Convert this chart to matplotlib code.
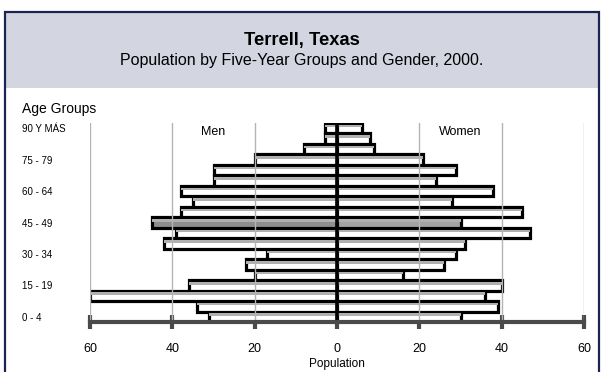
import matplotlib
matplotlib.use("Agg")
import matplotlib.pyplot as plt
from matplotlib.patches import Rectangle
import numpy as np

plt.rcParams['font.family'] = ['Liberation Sans', 'DejaVu Sans']

# Population by five-year age group (bottom to top)
age_groups = ["0 - 4", "5 - 9", "10 - 14", "15 - 19", "20 - 24", "25 - 29",
              "30 - 34", "35 - 39", "40 - 44", "45 - 49", "50 - 54", "55 - 59",
              "60 - 64", "65 - 69", "70 - 74", "75 - 79", "80 - 84", "85 - 89",
              "90 Y MÁS"]
men = [31, 34, 60, 36, 20, 22, 17, 42, 39, 45, 38, 35, 38, 30, 30, 20, 8, 3, 3]
women = [30, 39, 36, 40, 16, 26, 29, 31, 47, 30, 45, 28, 38, 24, 29, 21, 9, 8, 6]
highlight_group = "45 - 49"

x_ticks = [-60, -40, -20, 0, 20, 40, 60]
x_tick_labels = ["60", "40", "20", "0", "20", "40", "60"]

W, H = 603, 372
fig = plt.figure(figsize=(W / 100, H / 100), dpi=100)

# Header panel and frame
fig.patches.append(Rectangle((5 / W, 1 - 88 / H), 594 / W, 76 / H,
                             transform=fig.transFigure, facecolor="#d3d5e1",
                             edgecolor="none", zorder=0))
fig.patches.append(Rectangle((5 / W, -0.01), 594 / W, 1 - 12 / H + 0.01,
                             transform=fig.transFigure, facecolor="none",
                             edgecolor="#1c2452", linewidth=1.6, zorder=5))
fig.text(0.5, 1 - 40 / H, "Terrell, Texas", ha="center", va="center",
         fontsize=13.2, fontweight="bold")
fig.text(0.5, 1 - 60 / H, "Population by Five-Year Groups and Gender, 2000.",
         ha="center", va="center", fontsize=11.5)
fig.text(22 / W, 1 - 109 / H, "Age Groups", ha="left", va="center", fontsize=10)

ax = fig.add_axes([90 / W, 1 - 322 / H, 494 / W, 199 / H])
y = np.arange(len(age_groups))
hi = age_groups.index(highlight_group)

men_face = ["#8e8e8e" if i == hi else "white" for i in y]
women_face = ["#a3a3a3" if i == hi else "white" for i in y]

ax.barh(y, [-v for v in men], height=1.0, color=men_face,
        edgecolor="black", linewidth=2.3, zorder=2)
ax.barh(y, women, height=1.0, color=women_face,
        edgecolor="black", linewidth=2.3, zorder=2)
# grey shading band inside each bar
ax.barh(y + 0.2, [-v for v in men], height=0.24, color="#b0b0b0",
        edgecolor="none", zorder=2.5)
ax.barh(y + 0.2, women, height=0.24, color="#b0b0b0",
        edgecolor="none", zorder=2.5)
ax.axvline(0, color="black", linewidth=2.6, zorder=3)

for gx in [-60, -40, -20, 20, 40, 60]:
    ax.axvline(gx, color="#b4b4b4", linewidth=1.0, zorder=2.8)

ax.set_xlim(-60, 60)
ax.set_ylim(-0.5, len(age_groups) - 0.5)

ax.text(-30, 17.6, "Men", ha="center", va="center", fontsize=9, zorder=4)
ax.text(30, 17.6, "Women", ha="center", va="center", fontsize=9, zorder=4)

shown = list(range(0, len(age_groups), 3))
ax.set_yticks(shown, [age_groups[i] for i in shown])
ax.tick_params(axis="y", length=0, pad=49, labelsize=7)
for lab in ax.get_yticklabels():
    lab.set_horizontalalignment("left")

ax.set_xticks(x_ticks, x_tick_labels)
ax.tick_params(axis="x", direction="inout", length=10, width=3,
               color="#4a4a4a", labelsize=9, pad=10)
ax.set_xlabel("Population", fontsize=8.5, labelpad=2)

for s in ["top", "left", "right"]:
    ax.spines[s].set_visible(False)
ax.spines["bottom"].set_color("#4a4a4a")
ax.spines["bottom"].set_linewidth(3)
ax.spines["bottom"].set_zorder(4)
ax.set_facecolor("none")

fig.savefig("out.png", dpi=100)
